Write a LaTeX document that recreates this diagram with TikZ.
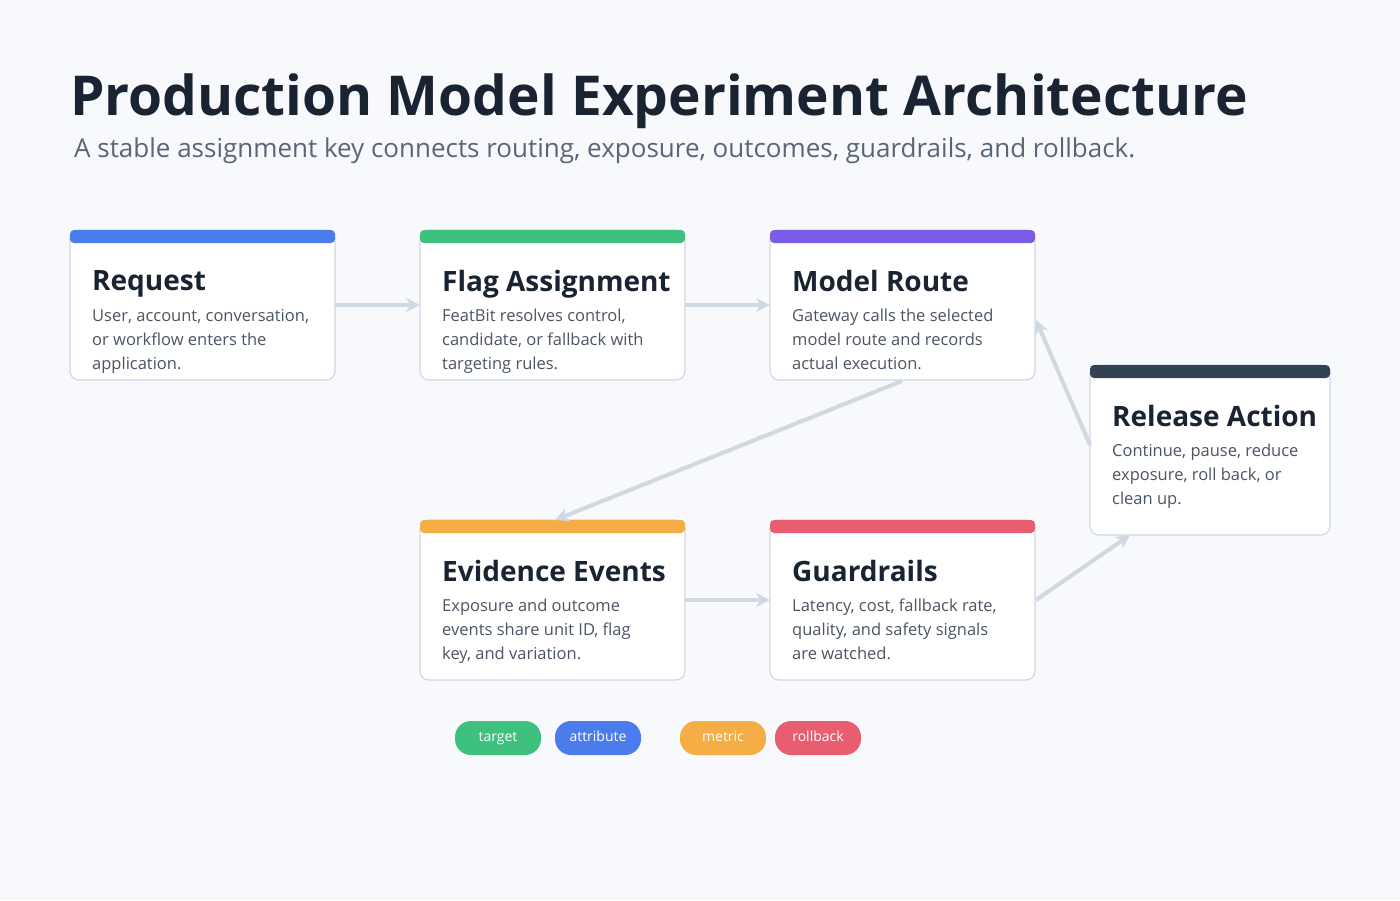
\documentclass[tikz,border=0pt]{standalone}
\usepackage{fontspec}
\setmainfont{Open Sans}
\usetikzlibrary{positioning,arrows.meta}
\definecolor{bg}{HTML}{F7F9FC}
\definecolor{ink}{HTML}{1A2332}
\definecolor{sub}{HTML}{5A6577}
\definecolor{body}{HTML}{4B5563}
\definecolor{edge}{HTML}{D0D8E2}
\definecolor{cblue}{HTML}{4A7DEB}
\definecolor{cgreen}{HTML}{3EC07E}
\definecolor{cpurple}{HTML}{7B5CE6}
\definecolor{cdark}{HTML}{334155}
\definecolor{corange}{HTML}{F4AE45}
\definecolor{cred}{HTML}{E85D70}
\tikzset{
  card/.style={draw=edge,line width=1.2pt,fill=white,rounded corners=9pt},
  bar/.style={fill=#1,rounded corners=4pt},
  head/.style={anchor=north west,inner sep=0pt,font=\fontsize{28}{32}\selectfont\bfseries,text=ink},
  txt/.style={anchor=north west,inner sep=0pt,align=left,font=\fontsize{16.5}{24}\selectfont,text=body},
  link/.style={draw=edge,line width=4pt,-{Stealth[length=14pt,width=14pt]}},
  pill/.style={fill=#1,rounded corners=16pt,minimum width=86pt,minimum height=34pt,inner sep=0pt,text height=10pt,text depth=3pt,text=white,font=\fontsize{14}{16}\selectfont},
}
\begin{document}
\begin{tikzpicture}[x=1pt,y=-1pt]
\fill[bg] (0,0) rectangle (1400,900);
\useasboundingbox (0,0) rectangle (1400,900);
\node[anchor=west,inner sep=0pt,font=\fontsize{55}{62}\selectfont\bfseries,text=ink] (title) at (70,101) {Production Model Experiment Architecture};
\node[anchor=west,inner sep=0pt,font=\fontsize{26}{30}\selectfont,text=sub] (subtitle) at (74,151) {A stable assignment key connects routing, exposure, outcomes, guardrails, and rollback.};
% cards
\newcommand{\card}[8]{%
  \draw[card] (#2,#3) rectangle (#4,#5);
  \fill[bar=#6] (#2,#3) rectangle (#4,#3+13);
  \node[head] (#1h) at (#2+22,#3+40) {#7};
  \node[txt] (#1t) at (#2+22,#3+79) {#8};
  \coordinate (#1) at ({(#2+#4)/2},{(#3+#5)/2});
}
\card{req}{70}{230}{335}{380}{cblue}{Request}{User, account, conversation,\\or workflow enters the\\application.}
\card{flag}{420}{230}{685}{380}{cgreen}{Flag Assignment}{FeatBit resolves control,\\candidate, or fallback with\\targeting rules.}
\card{route}{770}{230}{1035}{380}{cpurple}{Model Route}{Gateway calls the selected\\model route and records\\actual execution.}
\card{rel}{1090}{365}{1330}{535}{cdark}{Release Action}{Continue, pause, reduce\\exposure, roll back, or\\clean up.}
\card{evid}{420}{520}{685}{680}{corange}{Evidence Events}{Exposure and outcome\\events share unit ID, flag\\key, and variation.}
\card{guard}{770}{520}{1035}{680}{cred}{Guardrails}{Latency, cost, fallback rate,\\quality, and safety signals\\are watched.}
% connectors
\draw[link] (335,305) -- (420,305);
\draw[link] (685,305) -- (770,305);
\draw[link] (902,381) -- (555,520);
\draw[link] (685,600) -- (770,600);
\draw[link] (1036,600) -- (1130,535);
\draw[link] (1090,445) -- (1036,320);
% legend
\node[pill=cgreen] (p1) at (498,738) {target};
\node[pill=cblue] (p2) at (598,738) {attribute};
\node[pill=corange] (p3) at (723,738) {metric};
\node[pill=cred] (p4) at (818,738) {rollback};
\end{tikzpicture}
\end{document}
